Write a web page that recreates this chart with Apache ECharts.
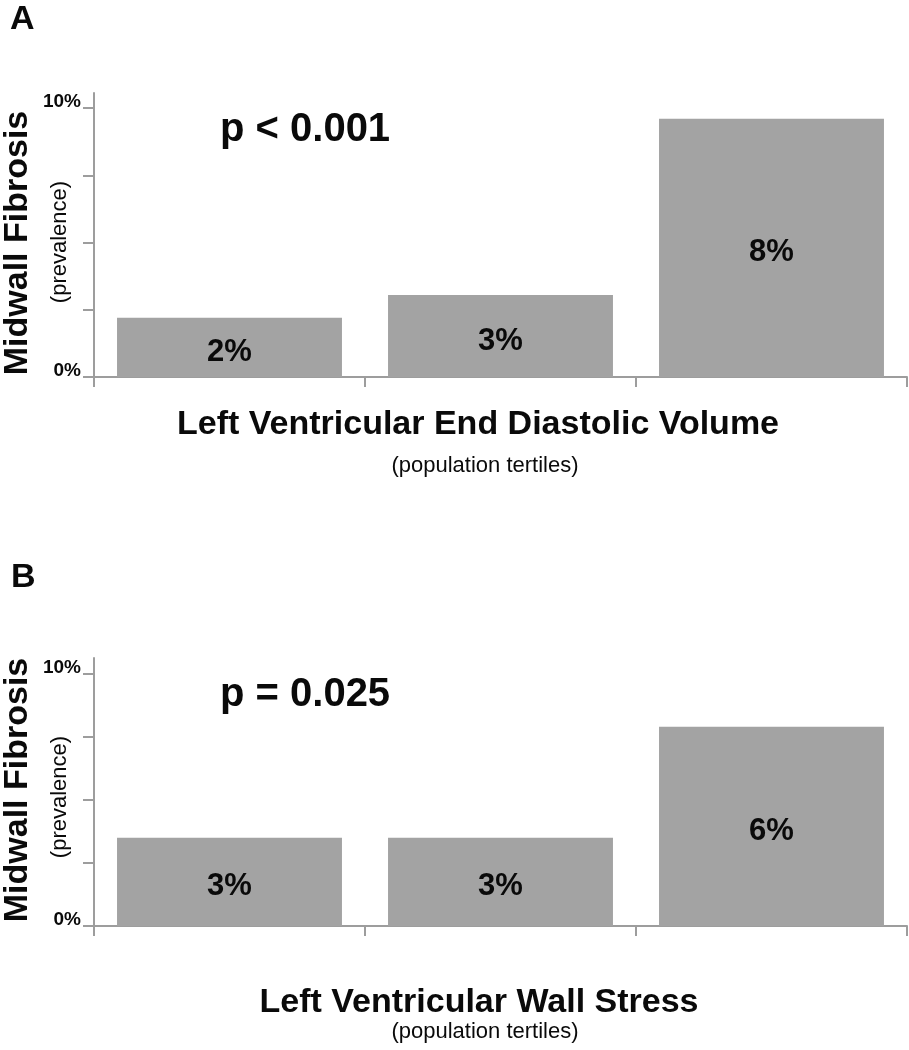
<!DOCTYPE html>
<html>
<head>
<meta charset="utf-8">
<script src="https://cdn.jsdelivr.net/npm/echarts@6/dist/echarts.min.js"></script>
<style>
  html, body { margin: 0; padding: 0; background: #fff; }
  #chart { width: 909px; height: 1050px; }
</style>
</head>
<body>
<div id="chart"></div>
<script>
// ---- data ----
const categories = ['Tertile 1', 'Tertile 2', 'Tertile 3'];
const edvValues = [2.2, 3.05, 9.6];      // bar heights (%) panel A
const edvLabels = ['2%', '3%', '8%'];    // printed labels panel A
const wsValues = [3.5, 3.5, 7.9];        // bar heights (%) panel B
const wsLabels = ['3%', '3%', '6%'];     // printed labels panel B
const yTickValues = [0, 2.5, 5, 7.5, 10];
const yLabelValues = [0, 10];
const panelLetters = ['A', 'B'];
const pValues = ['p < 0.001', 'p = 0.025'];
const xTitles = ['Left Ventricular End Diastolic Volume', 'Left Ventricular Wall Stress'];
const xSubtitle = '(population tertiles)';
const yTitle = 'Midwall Fibrosis';
const ySubtitle = '(prevalence)';

// ---- style ----
const FONT = '"Liberation Sans", Arial, Helvetica, sans-serif';
const AXIS_COLOR = '#9d9d9d';
const BAR_COLOR = '#a3a3a3';
const TEXT_COLOR = '#0a0a0a';

const chart = echarts.init(document.getElementById('chart'), null, { renderer: 'canvas' });

function xAxisCfg(gridIndex) {
  return {
    type: 'category', gridIndex, data: categories,
    axisLine: { show: true, lineStyle: { color: AXIS_COLOR, width: 2 } },
    axisTick: { show: true, length: 10, lineStyle: { color: AXIS_COLOR, width: 2 } },
    axisLabel: { show: false },
    splitLine: { show: false }
  };
}
function yAxisCfg(gridIndex, max) {
  return {
    type: 'value', gridIndex, min: 0, max: max,
    axisLine: { show: true, lineStyle: { color: AXIS_COLOR, width: 2 } },
    axisTick: { show: true, length: 11, customValues: yTickValues, lineStyle: { color: AXIS_COLOR, width: 2 } },
    axisLabel: {
      show: true, customValues: yLabelValues, margin: 13,
      formatter: v => v + '%',
      fontFamily: FONT, fontWeight: 'bold', fontSize: 19, color: TEXT_COLOR,
      verticalAlign: 'bottom', lineHeight: 13
    },
    splitLine: { show: false }
  };
}
function seriesCfg(idx, values, labels) {
  return {
    type: 'bar', xAxisIndex: idx, yAxisIndex: idx,
    data: values,
    barCategoryGap: '17%',
    itemStyle: { color: BAR_COLOR },
    label: {
      show: true, position: 'inside', offset: [0, 5],
      formatter: p => labels[p.dataIndex],
      fontFamily: FONT, fontWeight: 'bold', fontSize: 31, color: TEXT_COLOR
    },
    emphasis: { disabled: true },
    silent: true
  };
}
function txt(text, x, y, size, weight, align, rotation) {
  return {
    type: 'text', x, y, rotation: rotation || 0, silent: true,
    style: {
      text, fill: TEXT_COLOR,
      font: weight + ' ' + size + 'px ' + FONT,
      align: align, verticalAlign: 'middle'
    }
  };
}

const option = {
  animation: false,
  backgroundColor: '#fff',
  grid: [
    { left: 94, right: 2, top: 93, bottom: 1050 - 377, containLabel: false },
    { left: 94, right: 2, top: 658, bottom: 1050 - 926, containLabel: false }
  ],
  xAxis: [xAxisCfg(0), xAxisCfg(1)],
  yAxis: [yAxisCfg(0, 10.56), yAxisCfg(1, 10.63)],
  series: [seriesCfg(0, edvValues, edvLabels), seriesCfg(1, wsValues, wsLabels)],
  graphic: [
    txt(panelLetters[0], 10, 20, 34, 'bold', 'left'),
    txt(panelLetters[1], 11, 578, 34, 'bold', 'left'),
    txt(pValues[0], 220, 130, 40, 'bold', 'left'),
    txt(pValues[1], 220, 695, 40, 'bold', 'left'),
    txt(yTitle, 18, 243, 34, 'bold', 'center', Math.PI / 2),
    txt(ySubtitle, 60, 242, 22, 'normal', 'center', Math.PI / 2),
    txt(yTitle, 18, 790, 34, 'bold', 'center', Math.PI / 2),
    txt(ySubtitle, 60, 797, 22, 'normal', 'center', Math.PI / 2),
    txt(xTitles[0], 478, 425, 34, 'bold', 'center'),
    txt(xSubtitle, 485, 466, 22, 'normal', 'center'),
    txt(xTitles[1], 479, 1003, 34, 'bold', 'center'),
    txt(xSubtitle, 485, 1032, 22, 'normal', 'center')
  ]
};
chart.setOption(option);
</script>
</body>
</html>
